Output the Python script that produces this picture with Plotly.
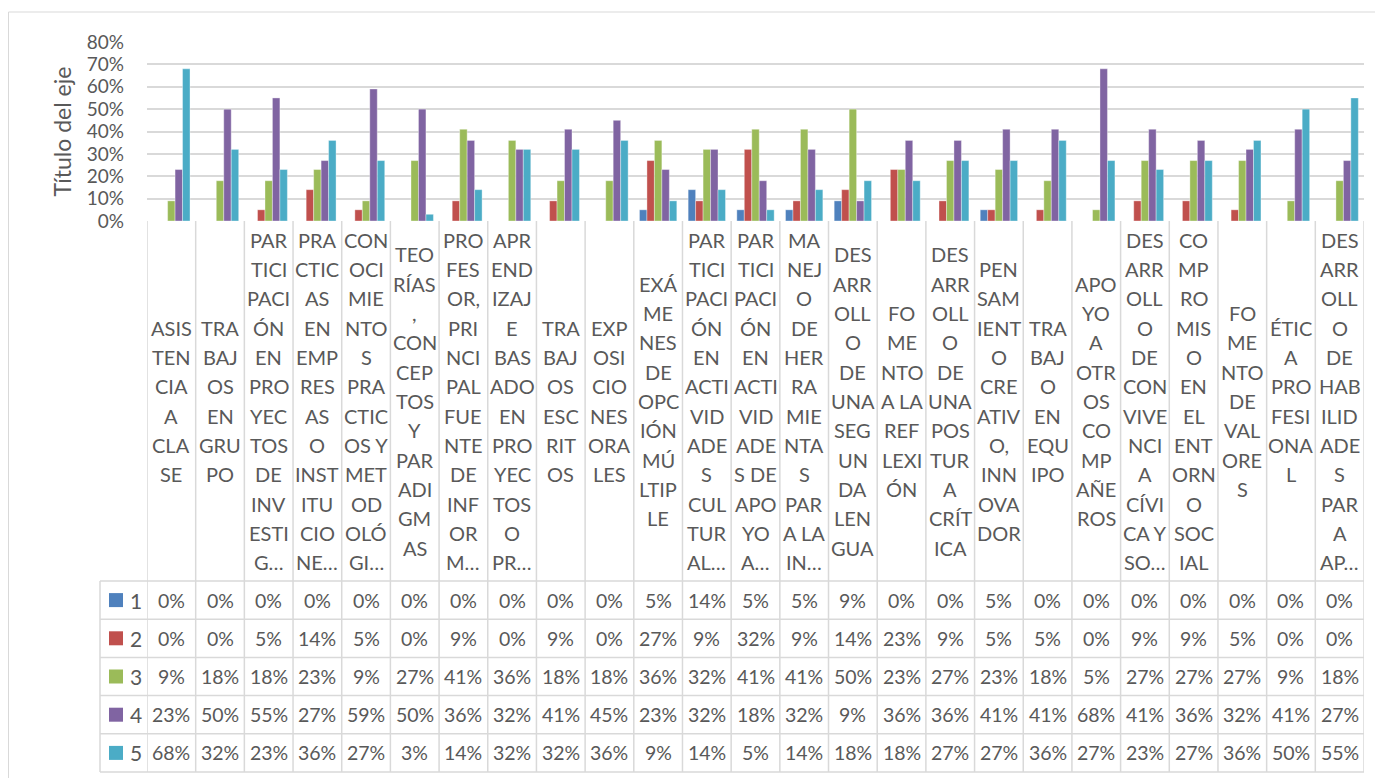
import plotly.graph_objects as go

# category labels, already wrapped the way the spreadsheet cells show them
categories = [
    "ASIS\nTEN\nCIA\nA\nCLA\nSE",
    "TRA\nBAJ\nOS\nEN\nGRU\nPO",
    "PAR\nTICI\nPACI\nÓN\nEN\nPRO\nYEC\nTOS\nDE\nINV\nESTI\nG…",
    "PRA\nCTIC\nAS\nEN\nEMP\nRES\nAS\nO\nINST\nITU\nCIO\nNE…",
    "CON\nOCI\nMIE\nNTO\nS\nPRA\nCTIC\nOS Y\nMET\nOD\nOLÓ\nGI…",
    "TEO\nRÍAS\n,\nCON\nCEP\nTOS\nY\nPAR\nADI\nGM\nAS",
    "PRO\nFES\nOR,\nPRI\nNCI\nPAL\nFUE\nNTE\nDE\nINF\nOR\nM…",
    "APR\nEND\nIZAJ\nE\nBAS\nADO\nEN\nPRO\nYEC\nTOS\nO\nPR…",
    "TRA\nBAJ\nOS\nESC\nRIT\nOS",
    "EXP\nOSI\nCIO\nNES\nORA\nLES",
    "EXÁ\nME\nNES\nDE\nOPC\nIÓN\nMÚ\nLTIP\nLE",
    "PAR\nTICI\nPACI\nÓN\nEN\nACTI\nVID\nADE\nS\nCUL\nTUR\nAL…",
    "PAR\nTICI\nPACI\nÓN\nEN\nACTI\nVID\nADE\nS DE\nAPO\nYO\nA…",
    "MA\nNEJ\nO\nDE\nHER\nRA\nMIE\nNTA\nS\nPAR\nA LA\nIN…",
    "DES\nARR\nOLL\nO\nDE\nUNA\nSEG\nUN\nDA\nLEN\nGUA",
    "FO\nME\nNTO\nA LA\nREF\nLEXI\nÓN",
    "DES\nARR\nOLL\nO\nDE\nUNA\nPOS\nTUR\nA\nCRÍT\nICA",
    "PEN\nSAM\nIENT\nO\nCRE\nATIV\nO,\nINN\nOVA\nDOR",
    "TRA\nBAJ\nO\nEN\nEQU\nIPO",
    "APO\nYO\nA\nOTR\nOS\nCO\nMP\nAÑE\nROS",
    "DES\nARR\nOLL\nO\nDE\nCON\nVIVE\nNCI\nA\nCÍVI\nCA Y\nSO…",
    "CO\nMP\nRO\nMIS\nO\nEN\nEL\nENT\nORN\nO\nSOC\nIAL",
    "FO\nME\nNTO\nDE\nVAL\nORE\nS",
    "ÉTIC\nA\nPRO\nFESI\nONA\nL",
    "DES\nARR\nOLL\nO\nDE\nHAB\nILID\nADE\nS\nPAR\nA\nAP…",
]

series_names = ["1", "2", "3", "4", "5"]
s1 = [0, 0, 0, 0, 0, 0, 0, 0, 0, 0, 5, 14, 5, 5, 9, 0, 0, 5, 0, 0, 0, 0, 0, 0, 0]
s2 = [0, 0, 5, 14, 5, 0, 9, 0, 9, 0, 27, 9, 32, 9, 14, 23, 9, 5, 5, 0, 9, 9, 5, 0, 0]
s3 = [9, 18, 18, 23, 9, 27, 41, 36, 18, 18, 36, 32, 41, 41, 50, 23, 27, 23, 18, 5, 27, 27, 27, 9, 18]
s4 = [23, 50, 55, 27, 59, 50, 36, 32, 41, 45, 23, 32, 18, 32, 9, 36, 36, 41, 41, 68, 41, 36, 32, 41, 27]
s5 = [68, 32, 23, 36, 27, 3, 14, 32, 32, 36, 9, 14, 5, 14, 18, 18, 27, 27, 36, 27, 23, 27, 36, 50, 55]

y_ticks = [0, 0.1, 0.2, 0.3, 0.4, 0.5, 0.6, 0.7, 0.8]
axis_title = "Título del eje"

colors = ["#4F81BD", "#C0504D", "#9BBB59", "#8064A2", "#4BACC6"]
text_color = "#595959"
line_color = "#D9D9D9"
FONT = "Lato"

# page geometry in pixels (page coords); the html body adds an 8px margin
PAGE_W, PAGE_H = 1383, 778
OFF = 8
W, H = PAGE_W - OFF, PAGE_H - OFF
L, R, T, B = 147, 1364, 42, 221
TABLE_TOP = 581
ROW_H = 38.2
LABEL_STEP = 29.3


def px_x(px):
    return (px - L) / (R - L)


def px_y(py):
    return (B - py) / (B - T)


all_series = [s1, s2, s3, s4, s5]
xs = list(range(len(categories)))

fig = go.Figure()
for name, vals, col in zip(series_names, all_series, colors):
    fig.add_trace(go.Bar(
        x=xs, y=[v / 100 for v in vals], name=name,
        marker=dict(color=col, line=dict(color="rgba(255,255,255,0.45)", width=0.8)),
    ))

shapes = []
annotations = []

# outer chart border (top + left visible)
shapes.append(dict(type="line", xref="paper", yref="paper", x0=px_x(8.5), x1=px_x(PAGE_W + 5),
                   y0=px_y(12), y1=px_y(12), line=dict(color=line_color, width=1)))
shapes.append(dict(type="line", xref="paper", yref="paper", x0=px_x(8.5), x1=px_x(8.5),
                   y0=px_y(12), y1=px_y(PAGE_H + 5), line=dict(color=line_color, width=1)))

# table: vertical separators between categories
n_rows = len(series_names)
table_bottom = TABLE_TOP + n_rows * ROW_H
for i in range(len(categories) + 1):
    shapes.append(dict(type="line", xref="x", yref="paper", x0=i - 0.5, x1=i - 0.5,
                       y0=px_y(B), y1=px_y(table_bottom), line=dict(color=line_color, width=1.5)))
# legend key column left border
shapes.append(dict(type="line", xref="paper", yref="paper", x0=px_x(100), x1=px_x(100),
                   y0=px_y(TABLE_TOP), y1=px_y(table_bottom), line=dict(color=line_color, width=1.5)))
# horizontal row lines
for r in range(n_rows + 1):
    yy = px_y(TABLE_TOP + r * ROW_H)
    shapes.append(dict(type="line", xref="paper", yref="paper", x0=px_x(100), x1=1,
                       y0=yy, y1=yy, line=dict(color=line_color, width=1.5)))

# category labels, one annotation per wrapped line, centred in the label band
band_mid = (B + TABLE_TOP) / 2
for i, lab in enumerate(categories):
    lines = lab.split("\n")
    first = band_mid - (len(lines) - 1) * LABEL_STEP / 2
    for k, ln in enumerate(lines):
        annotations.append(dict(x=i, xref="x", y=px_y(first + k * LABEL_STEP), yref="paper",
                                text=ln, showarrow=False, xanchor="center", yanchor="middle",
                                font=dict(family=FONT, size=20, color=text_color)))

# data rows
for r, (name, vals, col) in enumerate(zip(series_names, all_series, colors)):
    cy = TABLE_TOP + (r + 0.5) * ROW_H
    shapes.append(dict(type="rect", xref="paper", yref="paper", x0=px_x(109), x1=px_x(123),
                       y0=px_y(cy - 7), y1=px_y(cy + 7), fillcolor=col, line=dict(width=0)))
    annotations.append(dict(x=px_x(136), xref="paper", y=px_y(cy), yref="paper", text=name,
                            showarrow=False, xanchor="center", yanchor="middle",
                            font=dict(family=FONT, size=21, color=text_color)))
    for i, v in enumerate(vals):
        annotations.append(dict(x=i, xref="x", y=px_y(cy), yref="paper", text=f"{v}%",
                                showarrow=False, xanchor="center", yanchor="middle",
                                font=dict(family=FONT, size=19.5, color=text_color)))

# axis title
annotations.append(dict(x=px_x(61), xref="paper", y=0.5, yref="paper", text=axis_title,
                        textangle=-90, showarrow=False, xanchor="center", yanchor="middle",
                        font=dict(family=FONT, size=23, color=text_color)))

fig.update_layout(
    width=W, height=H,
    margin=dict(l=L - OFF, r=PAGE_W - R, t=T - OFF, b=PAGE_H - B, pad=0),
    paper_bgcolor="white", plot_bgcolor="white",
    barmode="group", bargap=0.233, bargroupgap=0,
    showlegend=False,
    shapes=shapes, annotations=annotations,
)
fig.update_xaxes(range=[-0.5, len(categories) - 0.5], showticklabels=False, showgrid=False,
                 zeroline=False, showline=False, fixedrange=True)
fig.update_yaxes(range=[0, 0.8], tickvals=y_ticks, ticktext=[f"{round(t * 100)}%" for t in y_ticks],
                 showgrid=True, gridcolor=line_color, gridwidth=1.5, zeroline=False, showline=False,
                 ticks="", ticklabelstandoff=22,
                 tickfont=dict(family=FONT, size=19, color=text_color), fixedrange=True)

fig.write_html("out.html")
